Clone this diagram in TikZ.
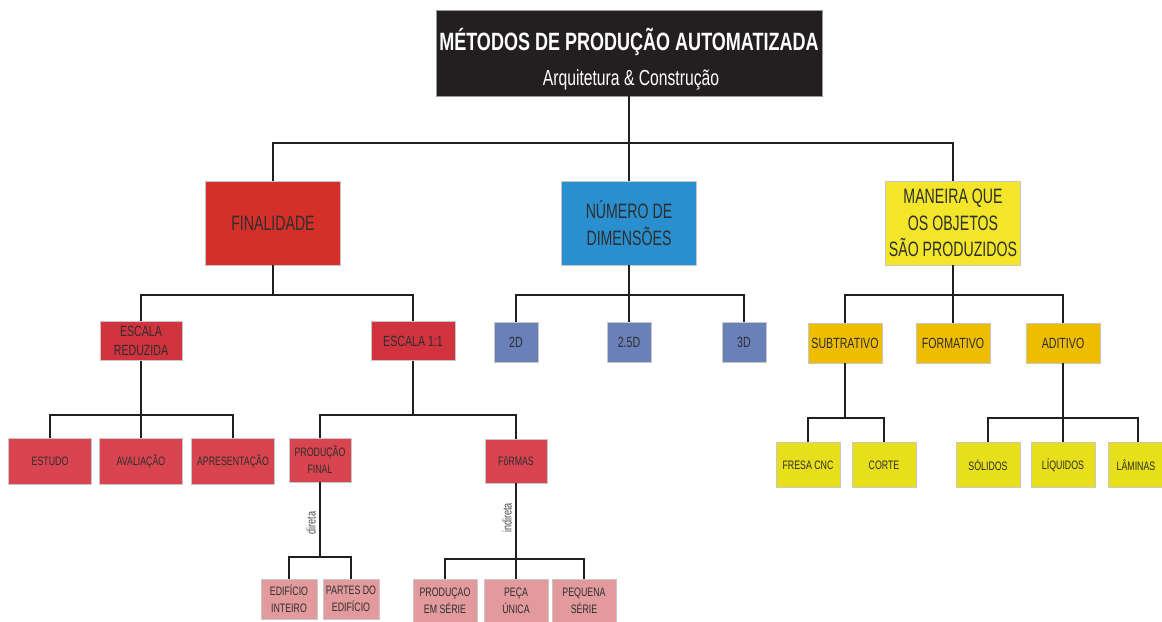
\documentclass[tikz,border=0pt]{standalone}
\usepackage{fontspec}
\setmainfont{Liberation Sans}[FakeStretch=0.72]
\newfontfamily\lvonefont{Liberation Sans}[FakeStretch=0.68]
\definecolor{ctitle}{HTML}{231F20}
\definecolor{cred}{HTML}{D52F2A}
\definecolor{cblue}{HTML}{2A8FCE}
\definecolor{cyel}{HTML}{F3E62A}
\definecolor{ccrim}{HTML}{D1333F}
\definecolor{cred3}{HTML}{D8444F}
\definecolor{cpink}{HTML}{E39A9C}
\definecolor{cslate}{HTML}{6A80B9}
\definecolor{camber}{HTML}{EEBD00}
\definecolor{cyel3}{HTML}{E6DF1A}
\definecolor{ctxt}{HTML}{2E2E2E}
\begin{document}
\begin{tikzpicture}[x=0.025cm,y=-0.025cm,
  box/.style={draw=black!22, line width=0.6pt, text=ctxt, align=center, inner sep=1pt},
  wh/.style 2 args={minimum width=#1*0.025cm, minimum height=#2*0.025cm},
  lvone/.style={box, wh={135}{84}, font=\lvonefont\fontsize{14.8}{18.8}\selectfont},
  lvtwo/.style={box, font=\fontsize{10.5}{13.5}\selectfont},
  lvthree/.style={box, font=\fontsize{8.7}{12}\selectfont},
  conn/.style={line width=1.3pt, draw=black!88},
  side/.style={rotate=90, text=black!70, font=\fontsize{9}{10}\selectfont, inner sep=1pt}]
\useasboundingbox (0,0) rectangle (1162,622);

% title
\node[box, fill=ctitle, text=white, draw=black!40, wh={386}{86}] (title) at (629,53) {};
\node[text=white, font=\bfseries\fontsize{17.8}{20}\selectfont, inner sep=0pt] (ttl) at (629,42) {MÉTODOS DE PRODUÇÃO AUTOMATIZADA};
\node[text=white, font=\fontsize{15.5}{18}\selectfont, inner sep=0pt] (sub) at (631,80) {Arquitetura \& Construção};

% level 1
\node[lvone, fill=cred] (fin) at (273,223) {FINALIDADE};
\node[lvone, fill=cblue] (num) at (629,223) {NÚMERO DE\\DIMENSÕES};
\node[lvone, fill=cyel] (man) at (953,223) {MANEIRA QUE\\OS OBJETOS\\SÃO PRODUZIDOS};

% level 2
\node[lvtwo, fill=ccrim, wh={82}{39}] (er) at (141,341) {ESCALA\\REDUZIDA};
\node[lvtwo, fill=ccrim, wh={84}{39}] (e11) at (413,341) {ESCALA 1:1};
\node[lvtwo, fill=cslate, wh={44}{40}] (d2) at (516,342) {2D};
\node[lvtwo, fill=cslate, wh={44}{40}] (d25) at (629,342) {2.5D};
\node[lvtwo, fill=cslate, wh={44}{40}] (d3) at (744,342) {3D};
\node[lvtwo, fill=camber, wh={74}{40}] (subt) at (845,343) {SUBTRATIVO};
\node[lvtwo, fill=camber, wh={74}{40}] (form) at (953,343) {FORMATIVO};
\node[lvtwo, fill=camber, wh={74}{40}] (adit) at (1063,343) {ADITIVO};

% level 3
\node[lvthree, fill=cred3, wh={83}{46}] (est) at (50,461) {ESTUDO};
\node[lvthree, fill=cred3, wh={83}{46}] (ava) at (141,461) {AVALIAÇÃO};
\node[lvthree, fill=cred3, wh={83}{46}] (apr) at (233,461) {APRESENTAÇÃO};
\node[lvthree, fill=cred3, wh={62}{44}] (pf) at (320,460) {PRODUÇÃO\\FINAL};
\node[lvthree, fill=cred3, wh={62}{44}] (fo) at (516,461) {FôRMAS};
\node[lvthree, fill=cyel3, wh={64}{45}] (fre) at (808,465) {FRESA CNC};
\node[lvthree, fill=cyel3, wh={64}{45}] (cor) at (884,465) {CORTE};
\node[lvthree, fill=cyel3, wh={64}{45}] (sol) at (988,465) {SÓLIDOS};
\node[lvthree, fill=cyel3, wh={64}{45}] (liq) at (1063,465) {LÍQUIDOS};
\node[lvthree, fill=cyel3, wh={56}{45}] (lam) at (1136,465) {LÂMINAS};

% level 4
\node[lvthree, fill=cpink, wh={56}{40}] (edi) at (289,599) {EDIFÍCIO\\INTEIRO};
\node[lvthree, fill=cpink, wh={56}{40}] (par) at (351,599) {PARTES DO\\EDIFÍCIO};
\node[lvthree, fill=cpink, wh={64}{44}] (pes) at (445,601) {PRODUÇAO\\EM SÉRIE};
\node[lvthree, fill=cpink, wh={64}{44}] (pec) at (516,601) {PEÇA\\ÚNICA};
\node[lvthree, fill=cpink, wh={64}{44}] (peq) at (584,601) {PEQUENA\\SÉRIE};

% bars
\coordinate (b0) at (629,143);
\coordinate (bf) at (273,295);
\coordinate (bn) at (629,295);
\coordinate (bm) at (953,295);
\coordinate (ber) at (141,415);
\coordinate (be1) at (413,415);
\coordinate (bsu) at (845,418);
\coordinate (bad) at (1063,418);
\coordinate (bpf) at (320,557);
\coordinate (bfo) at (516,559);

% connectors
\begin{scope}[conn]
\draw (title.south) -- (b0);
\draw (fin.north) |- (b0) -| (man.north);
\draw (b0) -- (num.north);

\draw (fin.south) -- (bf);
\draw (er.north) |- (bf) -| (e11.north);
\draw (num.south) -- (bn);
\draw (d2.north) |- (bn) -| (d3.north);
\draw (bn) -- (d25.north);
\draw (man.south) -- (bm);
\draw (subt.north) |- (bm) -| (adit.north);
\draw (bm) -- (form.north);

\draw (er.south) -- (ber);
\draw (est.north) |- (ber) -| (apr.north);
\draw (ber) -- (ava.north);
\draw (e11.south) -- (be1);
\draw (pf.north) |- (be1) -| (fo.north);
\draw (subt.south) -- (bsu);
\draw (fre.north) |- (bsu) -| (cor.north);
\draw (adit.south) -- (bad);
\draw (sol.north) |- (bad) -| ([xshift=2*0.025cm]lam.north);
\draw (bad) -- (liq.north);

\draw (pf.south) -- (bpf);
\draw (edi.north) |- (bpf) -| (par.north);
\draw (fo.south) -- (bfo);
\draw (pes.north) |- (bfo) -| (peq.north);
\draw (bfo) -- (pec.north);
\end{scope}

\node[side] (ldir) at (311,523) {direta};
\node[side] (lind) at (507,518) {indireta};
\end{tikzpicture}
\end{document}
